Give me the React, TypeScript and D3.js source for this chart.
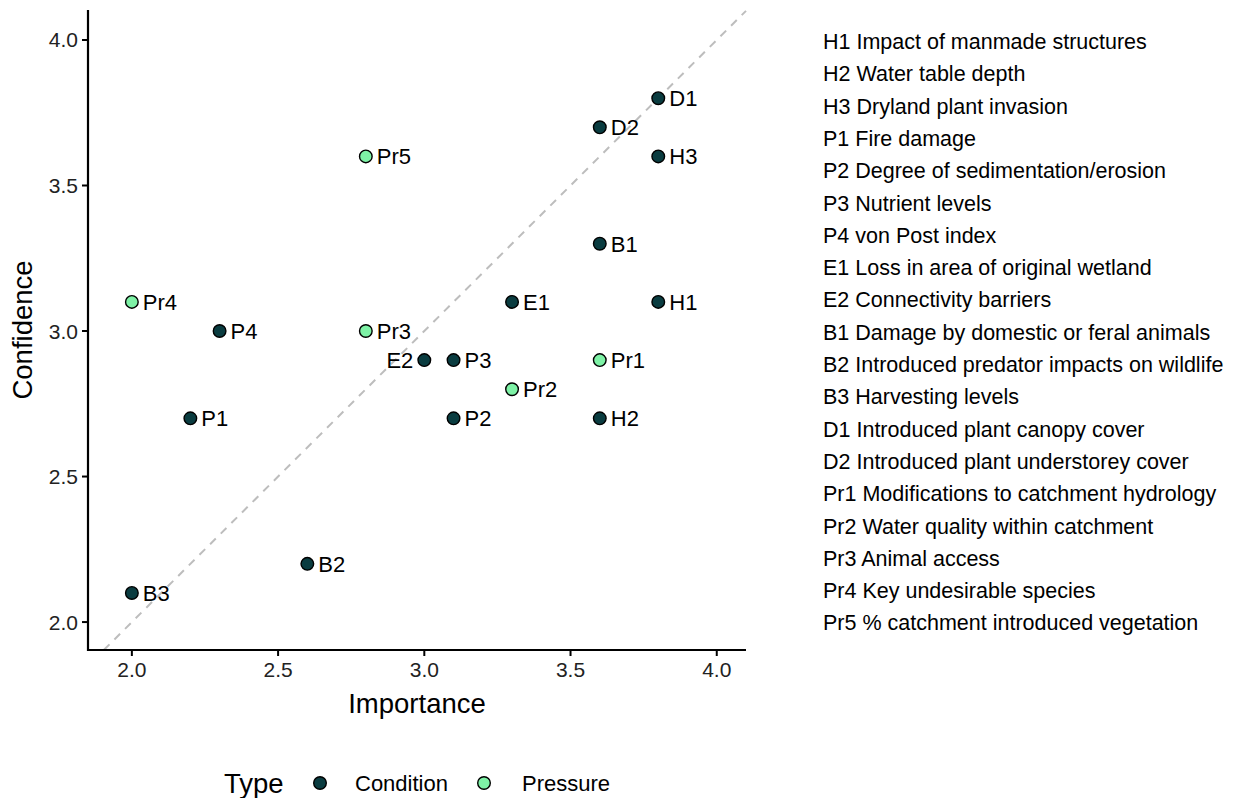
import React from 'react';
import * as d3 from 'd3';

// indicator codes with importance / confidence scores
const codes = ['H1', 'H2', 'H3', 'P1', 'P2', 'P3', 'P4', 'E1', 'E2', 'B1', 'B2', 'B3', 'D1', 'D2', 'Pr1', 'Pr2', 'Pr3', 'Pr4', 'Pr5'];
const importance = [3.8, 3.6, 3.8, 2.2, 3.1, 3.1, 2.3, 3.3, 3.0, 3.6, 2.6, 2.0, 3.8, 3.6, 3.6, 3.3, 2.8, 2.0, 2.8];
const confidence = [3.1, 2.7, 3.6, 2.7, 2.7, 2.9, 3.0, 3.1, 2.9, 3.3, 2.2, 2.1, 3.8, 3.7, 2.9, 2.8, 3.0, 3.1, 3.6];
const types = ['Condition', 'Condition', 'Condition', 'Condition', 'Condition', 'Condition', 'Condition', 'Condition', 'Condition', 'Condition', 'Condition', 'Condition', 'Condition', 'Condition', 'Pressure', 'Pressure', 'Pressure', 'Pressure', 'Pressure'];
const leftLabels = ['E2'];

const descriptions = [
  'H1 Impact of manmade structures',
  'H2 Water table depth',
  'H3 Dryland plant invasion',
  'P1 Fire damage',
  'P2 Degree of sedimentation/erosion',
  'P3 Nutrient levels',
  'P4 von Post index',
  'E1 Loss in area of original wetland',
  'E2 Connectivity barriers',
  'B1 Damage by domestic or feral animals',
  'B2 Introduced predator impacts on wildlife',
  'B3 Harvesting levels',
  'D1 Introduced plant canopy cover',
  'D2 Introduced plant understorey cover',
  'Pr1 Modifications to catchment hydrology',
  'Pr2 Water quality within catchment',
  'Pr3 Animal access',
  'Pr4 Key undesirable species',
  'Pr5 % catchment introduced vegetation',
];

const typeNames = ['Condition', 'Pressure'];
const typeColors = ['#0a3c40', '#7ef2a6'];
const ticks = [2.0, 2.5, 3.0, 3.5, 4.0];

const W = 1235;
const H = 798;
const left = 88;
const right = 746;
const top = 10;
const bottom = 650;
const font = '"Liberation Sans", Arial, Helvetica, sans-serif';

const App: React.FC = () => {
  const x = d3.scaleLinear().domain([1.85, 4.1]).range([left, right]);
  const y = d3.scaleLinear().domain([1.904, 4.103]).range([bottom, top]);
  const color = d3.scaleOrdinal<string, string>().domain(typeNames).range(typeColors);

  const points = codes.map((c, i) => ({ code: c, imp: importance[i], conf: confidence[i], type: types[i] }));

  // y = x reference line, clipped to panel
  const lo = Math.max(x.domain()[0], y.domain()[0]);
  const hi = Math.min(x.domain()[1], y.domain()[1]);
  const diag = d3.line<number>().x(d => x(d)).y(d => y(d))([lo, hi]) || '';

  return (
    <svg width={W} height={H} style={{ position: 'absolute', left: 0, top: 0 }} fontFamily={font}>
      <rect width={W} height={H} fill="#fff" />
      <path d={diag} stroke="#bdbdbd" strokeWidth={2} strokeDasharray="8,7" fill="none" />

      {/* axes */}
      <line x1={left} x2={left} y1={top} y2={bottom + 1} stroke="#000" strokeWidth={2.2} />
      <line x1={left - 1} x2={right} y1={bottom} y2={bottom} stroke="#000" strokeWidth={2.2} />
      {ticks.map(t => (
        <g key={'x' + t}>
          <line x1={x(t)} x2={x(t)} y1={bottom} y2={bottom + 6} stroke="#000" strokeWidth={2} />
          <text x={x(t)} y={bottom + 27} textAnchor="middle" fontSize={21} fill="#222">{t.toFixed(1)}</text>
        </g>
      ))}
      {ticks.map(t => (
        <g key={'y' + t}>
          <line x1={left - 6} x2={left} y1={y(t)} y2={y(t)} stroke="#000" strokeWidth={2} />
          <text x={left - 10} y={y(t) + 7.5} textAnchor="end" fontSize={21} fill="#222">{t.toFixed(1)}</text>
        </g>
      ))}
      <text x={(left + right) / 2} y={713} textAnchor="middle" fontSize={27.5}>Importance</text>
      <text transform={`translate(32,${(top + bottom) / 2}) rotate(-90)`} textAnchor="middle" fontSize={27.5}>Confidence</text>

      {/* points and labels */}
      {points.map(p => (
        <g key={p.code}>
          <circle cx={x(p.imp)} cy={y(p.conf)} r={6.3} fill={color(p.type)} stroke="#000" strokeWidth={1.4} />
          {leftLabels.includes(p.code) ? (
            <text x={x(p.imp) - 11} y={y(p.conf) + 8} textAnchor="end" fontSize={22}>{p.code}</text>
          ) : (
            <text x={x(p.imp) + 11} y={y(p.conf) + 8} fontSize={22}>{p.code}</text>
          )}
        </g>
      ))}

      {/* code descriptions */}
      {descriptions.map((d, i) => (
        <text key={d} x={823} y={49 + i * 32.3} fontSize={21.5}>{d}</text>
      ))}

      {/* type legend */}
      <text x={224} y={793} fontSize={27.5}>Type</text>
      {typeNames.map((t, i) => (
        <g key={t}>
          <circle cx={320 + i * 164} cy={783} r={6.3} fill={color(t)} stroke="#000" strokeWidth={1.4} />
          <text x={355 + i * 167} y={791} fontSize={22}>{t}</text>
        </g>
      ))}
    </svg>
  );
};

export default App;
